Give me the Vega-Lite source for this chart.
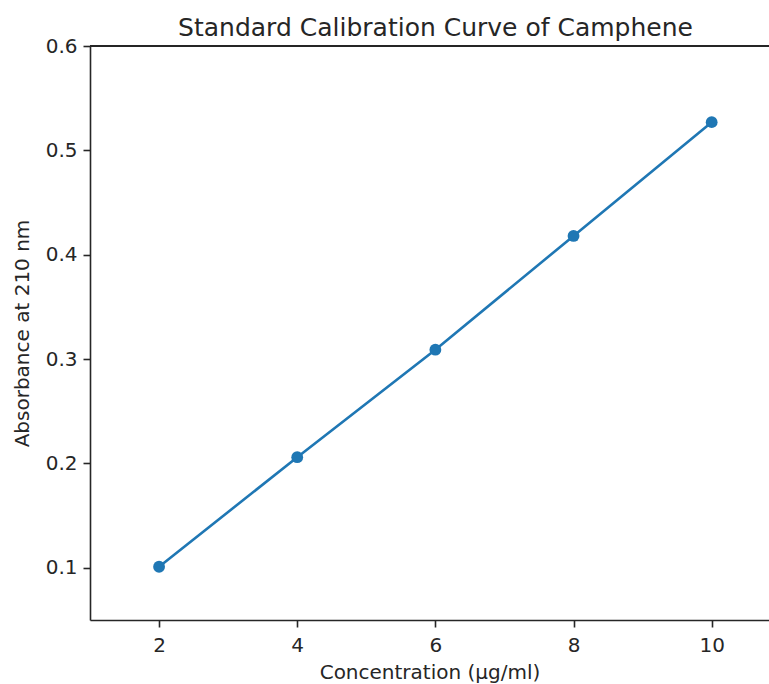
{
  "$schema": "https://vega.github.io/schema/vega-lite/v6.json",
  "width": 679,
  "height": 574,
  "autosize": {"type": "none"},
  "padding": {"left": 90, "top": 46, "right": 0, "bottom": 64},
  "background": "white",
  "config": {
    "view": {"stroke": null},
    "font": "DejaVu Sans",
    "axis": {
      "labelFont": "DejaVu Sans",
      "titleFont": "DejaVu Sans",
      "labelFontSize": 20,
      "titleFontSize": 20,
      "titleFontWeight": "normal",
      "labelColor": "#262626",
      "titleColor": "#262626",
      "domainColor": "#262626",
      "tickColor": "#262626",
      "domainWidth": 1.6,
      "tickWidth": 1.6,
      "tickSize": 7,
      "grid": false
    }
  },
  "title": {
    "text": "Standard Calibration Curve of Camphene",
    "font": "DejaVu Sans",
    "fontSize": 25,
    "fontWeight": "normal",
    "color": "#262626",
    "offset": -5,
    "dx": 6
  },
  "data": {
    "values": [
      {"conc": 2, "abs": 0.101},
      {"conc": 4, "abs": 0.206},
      {"conc": 6, "abs": 0.309},
      {"conc": 8, "abs": 0.418},
      {"conc": 10, "abs": 0.527}
    ]
  },
  "encoding": {
    "x": {
      "field": "conc",
      "type": "quantitative",
      "scale": {"domain": [1, 10.83], "nice": false, "zero": false},
      "axis": {"values": [2, 4, 6, 8, 10], "title": "Concentration (µg/ml)", "labelPadding": 8, "titlePadding": 7}
    },
    "y": {
      "field": "abs",
      "type": "quantitative",
      "scale": {"domain": [0.05, 0.6], "nice": false, "zero": false},
      "axis": {"values": [0.1, 0.2, 0.3, 0.4, 0.5, 0.6], "format": ".1f", "title": "Absorbance at 210 nm", "labelPadding": 6, "titlePadding": 13}
    }
  },
  "layer": [
    {"mark": {"type": "line", "color": "#1f77b4", "strokeWidth": 2.6}},
    {"mark": {"type": "point", "filled": true, "color": "#1f77b4", "opacity": 1, "size": 140}},
    {
      "mark": {"type": "rule", "color": "#262626", "strokeWidth": 1.6},
      "encoding": {
        "x": {"datum": 1, "type": "quantitative"},
        "x2": {"datum": 10.83},
        "y": {"datum": 0.6, "type": "quantitative"}
      }
    }
  ]
}
